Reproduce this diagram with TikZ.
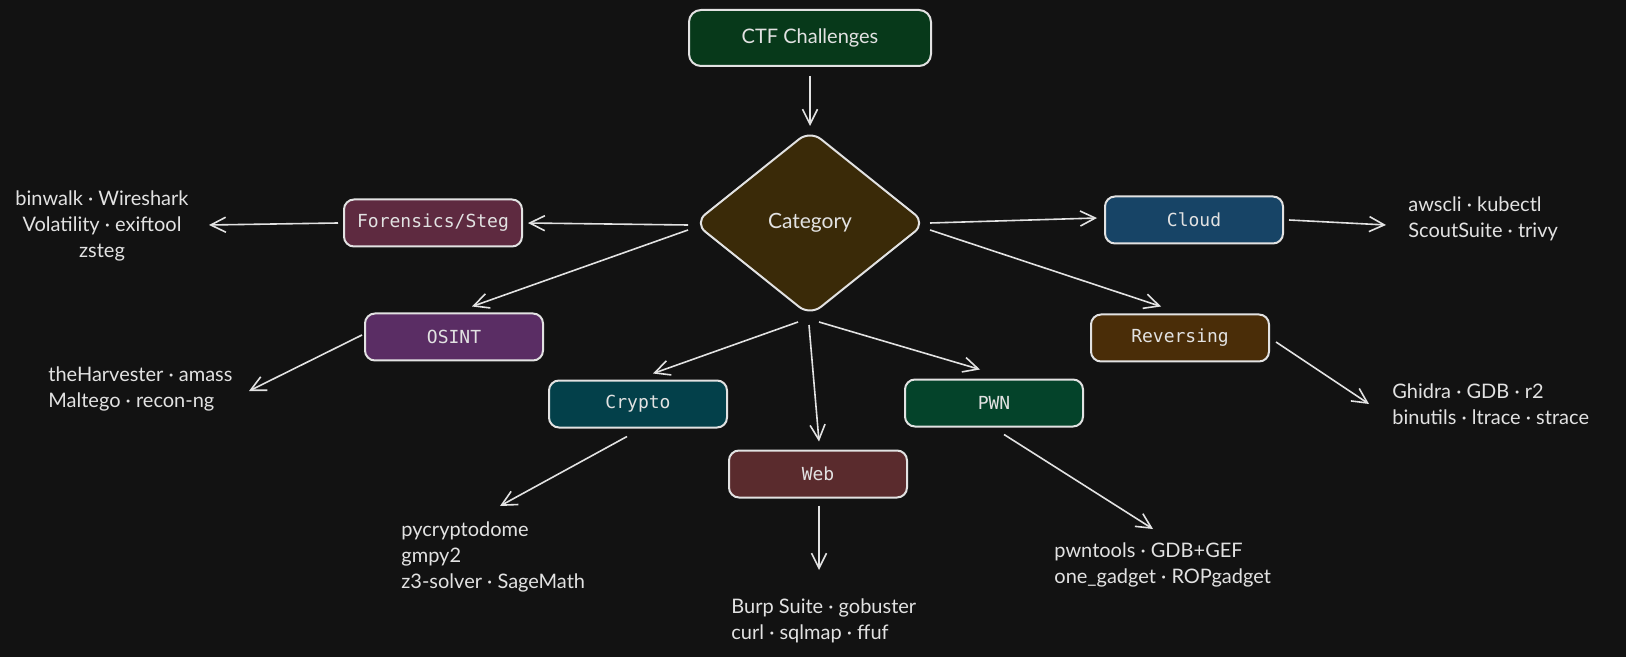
\documentclass[tikz,border=0pt]{standalone}
\usepackage{fontspec}
\setmainfont{Lato}
\newfontfamily\boxfont{DejaVu Sans Mono}
\usetikzlibrary{shapes.geometric,arrows.meta,calc}
\definecolor{bg}{HTML}{121212}
\definecolor{ink}{HTML}{E2E2E2}
\definecolor{cctf}{HTML}{07391A}
\definecolor{ccat}{HTML}{3A2A08}
\definecolor{cfor}{HTML}{5E2A40}
\definecolor{cosint}{HTML}{5A2D64}
\definecolor{ccrypto}{HTML}{03404A}
\definecolor{cweb}{HTML}{5A2B2D}
\definecolor{cpwn}{HTML}{04432A}
\definecolor{crev}{HTML}{4A2D08}
\definecolor{ccloud}{HTML}{174466}
\tikzset{
  catbox/.style={draw=ink, line width=1pt, rounded corners=5pt, minimum width=89pt, minimum height=23.5pt, inner sep=0pt, text=ink, font=\boxfont\fontsize{9}{11}\selectfont},
  tools/.style={text=ink, inner sep=0pt, font=\fontsize{10}{13}\selectfont},
  arr/.style={draw=ink, line width=0.8pt, -{Straight Barb[length=7.5pt,width=7.5pt]}},
}
\begin{document}
\begin{tikzpicture}[x=0.5pt,y=-0.5pt]
\path[use as bounding box, fill=bg] (0,0) rectangle (1626,657);

% main nodes
\node[draw=ink, line width=1pt, rounded corners=6pt, fill=cctf, minimum width=121pt, minimum height=28pt, text=ink, font=\fontsize{10}{12}\selectfont] (ctf) at (810,38) {CTF Challenges};
\node[draw=ink, line width=1pt, diamond, rounded corners=7pt, fill=ccat, minimum width=116pt, minimum height=93pt, aspect=1.247, inner sep=0pt, text=ink, font=\fontsize{10.5}{12}\selectfont] (cat) at (810,223) {Category};

\node[catbox, fill=cfor] (for) at (433,223) {Forensics/Steg};
\node[catbox, fill=cosint] (osint) at (454,337) {OSINT};
\node[catbox, fill=ccrypto] (crypto) at (638,404) {Crypto};
\node[catbox, fill=cweb] (web) at (818,474) {Web};
\node[catbox, fill=cpwn] (pwn) at (994,403) {PWN};
\node[catbox, fill=crev] (rev) at (1180,338) {Reversing};
\node[catbox, fill=ccloud] (cloud) at (1194,220) {Cloud};

% tool texts
\node[tools, align=center] (tfor) at (102,226) {binwalk · Wireshark\\Volatility · exiftool\\zsteg};
\node[tools, align=left, anchor=west] (tosint) at (48,389) {theHarvester · amass\\Maltego · recon-ng};
\node[tools, align=left, anchor=west] (tcrypto) at (401,557) {pycryptodome\\gmpy2\\z3-solver · SageMath};
\node[tools, align=left, anchor=west] (tweb) at (731,621) {Burp Suite · gobuster\\curl · sqlmap · ffuf};
\node[tools, align=left, anchor=west] (tpwn) at (1054,565) {pwntools · GDB+GEF\\one\_gadget · ROPgadget};
\node[tools, align=left, anchor=west] (trev) at (1392,404) {Ghidra · GDB · r2\\binutils · ltrace · strace};
\node[tools, align=left, anchor=west] (tcloud) at (1408,219) {awscli · kubectl\\ScoutSuite · trivy};

% arrow end coordinates near texts
\coordinate (efor) at (209,225);
\coordinate (eosint) at (249,391);
\coordinate (ecrypto) at (500,506);
\coordinate (eweb) at (819,570);
\coordinate (epwn) at (1153,529);
\coordinate (erev) at (1369,404);
\coordinate (ecloud) at (1386,225);

% connectors
\draw[arr] ($(ctf.south)+(0,9)$) -- ($(cat.north)+(0,-3)$);
\draw[arr] ($(cat.west)+(-5,2)$) -- ($(for.east)+(5,0)$);
\draw[arr] ($(cat.west)+(-5,7)$) -- ($(osint.north)+(18,-6)$);
\draw[arr] ($(cat.south)+(-12,5)$) -- ($(crypto.north)+(15,-6)$);
\draw[arr] ($(cat.south)+(-1,8)$) -- ($(web.north)+(1,-8)$);
\draw[arr] ($(cat.south)+(9,5)$) -- ($(pwn.north)+(-14,-9)$);
\draw[arr] ($(cat.east)+(3,0)$) -- ($(cloud.west)+(-7,-2)$);
\draw[arr] ($(cat.east)+(3,7)$) -- ($(rev.north)+(-19,-7)$);

\draw[arr] ($(for.west)+(-5,0)$) -- (efor);
\draw[arr] ($(osint.west)+(-2,-2)$) -- (eosint);
\draw[arr] ($(crypto.south)+(-11,8)$) -- (ecrypto);
\draw[arr] ($(web.south)+(1,7)$) -- (eweb);
\draw[arr] ($(pwn.south)+(10,7)$) -- (epwn);
\draw[arr] ($(rev.east)+(6,4)$) -- (erev);
\draw[arr] ($(cloud.east)+(5,0)$) -- (ecloud);
\end{tikzpicture}
\end{document}
